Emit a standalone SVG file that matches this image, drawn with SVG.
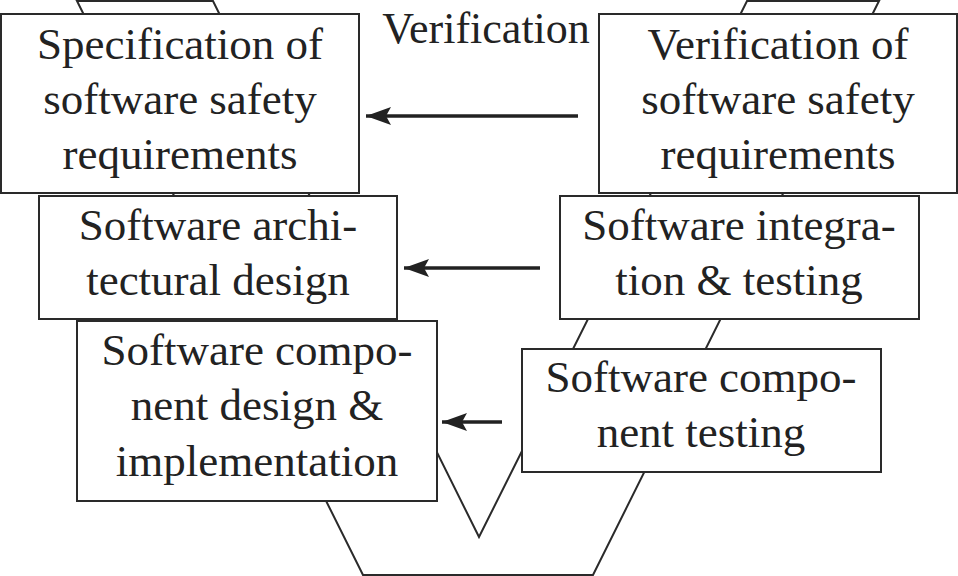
<svg xmlns="http://www.w3.org/2000/svg" width="958" height="576" viewBox="0 0 958 576">
<defs>
<style>
.box{fill:#fff;stroke:#2a2a2a;stroke-width:2}
.t{font-family:"Liberation Serif","Times New Roman",serif;font-size:45px;fill:#222;text-anchor:middle}
.v{fill:none;stroke:#2a2a2a;stroke-width:2;stroke-linejoin:miter}
.arr{stroke:#222;stroke-width:3.5;fill:none;marker-end:url(#ah)}
</style>
<marker id="ah" markerUnits="userSpaceOnUse" markerWidth="28" markerHeight="20" refX="25" refY="9" orient="auto">
<path d="M0,0 L25,9 L0,18 L5,9 Z" fill="#222"/>
</marker>
</defs>
<rect width="958" height="576" fill="#fff"/>
<g id="vshape">
<polygon class="v" points="77,1 213,1 479,537 747,1 879,1 593,575 363,575"/>
</g>
<text class="t" x="486" y="43" style="font-size:44px">Verification</text>
<g id="connectors">
<line class="arr" x1="578" y1="116" x2="366" y2="116"/>
<line class="arr" x1="540" y1="268" x2="404" y2="268"/>
<line class="arr" x1="502" y1="422" x2="442" y2="422"/>
</g>
<g id="spec">
<rect class="box" x="1" y="14" width="358" height="179"/>
<text class="t" x="180" y="59">Specification of</text>
<text class="t" x="180" y="114">software safety</text>
<text class="t" x="180" y="169">requirements</text>
</g>
<g id="verif">
<rect class="box" x="599" y="14" width="358" height="179"/>
<text class="t" x="778" y="59">Verification of</text>
<text class="t" x="778" y="114">software safety</text>
<text class="t" x="778" y="169">requirements</text>
</g>
<g id="arch">
<rect class="box" x="39" y="196" width="358" height="123"/>
<text class="t" x="218" y="240">Software archi-</text>
<text class="t" x="218" y="295">tectural design</text>
</g>
<g id="integ">
<rect class="box" x="560" y="196" width="359" height="123"/>
<text class="t" x="739" y="240">Software integra-</text>
<text class="t" x="739" y="295">tion &amp; testing</text>
</g>
<g id="compdesign">
<rect class="box" x="77" y="321" width="360" height="180"/>
<text class="t" x="257" y="365">Software compo-</text>
<text class="t" x="257" y="420">nent design &amp;</text>
<text class="t" x="257" y="476">implementation</text>
</g>
<g id="comptest">
<rect class="box" x="522" y="349" width="359" height="123"/>
<text class="t" x="701" y="392">Software compo-</text>
<text class="t" x="701" y="447">nent testing</text>
</g>
</svg>
